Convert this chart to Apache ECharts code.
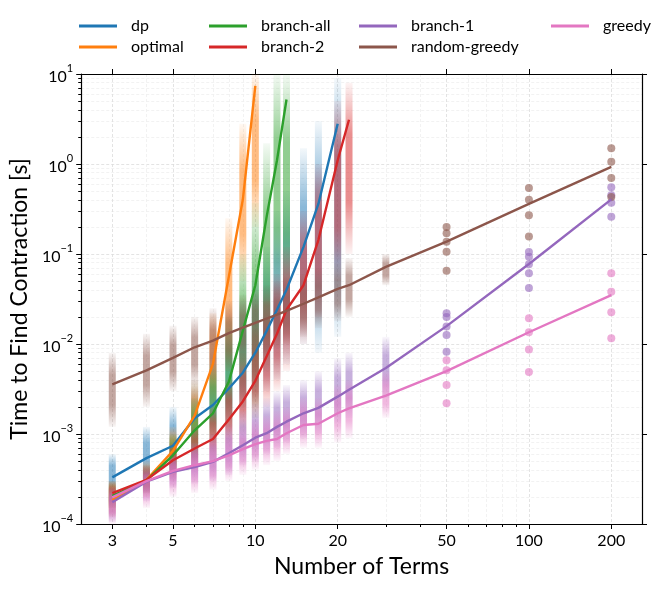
<!DOCTYPE html>
<html><head><meta charset="utf-8">
<script src="https://cdn.jsdelivr.net/npm/echarts@6/dist/echarts.min.js"></script>
<style>html,body{margin:0;padding:0;background:#fff}#c{width:664px;height:590px}</style>
</head><body><div id="c"></div>
<script>
// ---------- data ----------
const xs = [3,4,5,6,7,8,9,10,11,12,13,15,17,20,22,30,50,100,200];
const xMajorTicks = [3,5,10,20,50,100,200];
const xMinorTicks = [4,6,7,8,9,30,40,60,70,80,90];
const yMajorTicks = [1e-4,1e-3,1e-2,1e-1,1,10];

// median lines
const dpMed = [3.3e-4,5.4e-4,7.4e-4,1.5e-3,2.1e-3,3.2e-3,4.8e-3,8e-3,0.014,0.024,0.04,0.12,0.36,2.8];
const optimalMed = [1.85e-4,3.1e-4,6.5e-4,1.6e-3,6e-3,0.056,0.4,7.4];
const branchAllMed = [2.05e-4,3.05e-4,5.8e-4,1.1e-3,1.7e-3,3.8e-3,0.014,0.045,0.26,1.1,5.2];
const branch2Med = [2.2e-4,3.1e-4,5.1e-4,6.9e-4,8.8e-4,1.45e-3,2.3e-3,3.9e-3,7.3e-3,0.013,0.024,0.045,0.143,1.1,3.1];
const branch1Med = [1.75e-4,2.95e-4,3.8e-4,4.3e-4,4.9e-4,6.1e-4,7.5e-4,9.1e-4,1.02e-3,1.2e-3,1.37e-3,1.7e-3,1.95e-3,2.6e-3,3.1e-3,5.4e-3,0.0158,0.0775,0.405];
const randomGreedyMed = [3.56e-3,5.1e-3,7.0e-3,9.2e-3,0.0109,0.0132,0.0152,0.0172,0.0192,0.0212,0.0234,0.028,0.033,0.041,0.045,0.072,0.137,0.36,0.93];
const greedyMed = [1.98e-4,3.0e-4,3.9e-4,4.5e-4,5.0e-4,5.8e-4,6.8e-4,7.7e-4,8.4e-4,8.8e-4,1.02e-3,1.26e-3,1.3e-3,1.7e-3,1.93e-3,2.67e-3,5.0e-3,0.0135,0.035];

// sample clouds (low / high extent per x)
const dpLo = [2.2e-4,3e-4,4e-4,6e-4,8e-4,1e-3,1.5e-3,2e-3,3e-3,4e-3,6e-3,0.01,0.008,0.012];
const dpHi = [6e-4,1.2e-3,2e-3,4e-3,8e-3,0.015,0.03,0.06,0.12,0.3,0.5,1.5,3,9];
const optimalLo = [1.2e-4,2e-4,4e-4,8e-4,2e-3,5e-3,0.05,0.2];
const optimalHi = [3e-4,5e-4,1.2e-3,4e-3,0.022,0.25,2.8,10];
const branchAllLo = [1.5e-4,2.2e-4,3.5e-4,5e-4,8e-4,1.2e-3,2e-3,1.5e-3,5e-3,0.035,0.03];
const branchAllHi = [3e-4,4.5e-4,1e-3,2.5e-3,6e-3,0.02,0.1,0.37,1.7,10,10];
const branch2Lo = [1.5e-4,2.2e-4,3e-4,4e-4,5e-4,7e-4,1e-3,1.5e-3,2e-3,3e-3,5e-3,0.01,0.02,0.05,0.1];
const branch2Hi = [3e-4,4.5e-4,8e-4,1.2e-3,2e-3,4e-3,8e-3,0.015,0.03,0.06,0.12,0.3,1.0,5,8];
const branch1Lo = [1.05e-4,1.8e-4,2.5e-4,2.8e-4,3e-4,3.5e-4,4.5e-4,5e-4,6e-4,7e-4,8e-4,9e-4,1e-3,1.3e-3,1.5e-3,2.5e-3];
const branch1Hi = [2.5e-4,4.5e-4,6e-4,8e-4,1e-3,1.3e-3,1.8e-3,2.2e-3,2.5e-3,3e-3,3.5e-3,4e-3,5e-3,7e-3,8e-3,0.012];
const randomGreedyLo = [1.2e-3,2e-3,3e-3,3.5e-3,4e-3,5e-3,6e-3,7e-3,8e-3,9e-3,0.01,0.012,0.015,0.018,0.02,0.045];
const randomGreedyHi = [8e-3,0.013,0.016,0.02,0.025,0.03,0.035,0.04,0.045,0.05,0.055,0.06,0.07,0.08,0.09,0.1];
const greedyLo = [1e-4,1.5e-4,2e-4,2.2e-4,2.4e-4,3e-4,3.5e-4,4e-4,4.5e-4,5e-4,6e-4,7e-4,7e-4,8e-4,9e-4,1.5e-3];
const greedyHi = [2.6e-4,4e-4,6e-4,7e-4,8e-4,1e-3,1.2e-3,1.5e-3,1.6e-3,1.8e-3,2e-3,2.5e-3,2.5e-3,3.5e-3,4e-3,5e-3];

// sparse samples at large x
const dotXs = [50,100,200];
const randomGreedyDots = [[0.2,0.17,0.137,0.106,0.065],[0.54,0.4,0.27,0.156],[1.5,1.06,0.7,0.43]];
const branch1Dots = [[0.022,0.02,0.0156,0.0126,0.0082],[0.105,0.093,0.077,0.061,0.042],[0.55,0.45,0.37,0.26]];
const greedyDots = [[0.0066,0.0051,0.0035,0.0022],[0.0193,0.0135,0.0087,0.0049],[0.061,0.038,0.0225,0.0116]];

// ---------- chart ----------
const FONT = 'Lato';
const methods = [
  {name:'dp', color:'#1f77b4', med:dpMed, lo:dpLo, hi:dpHi},
  {name:'optimal', color:'#ff7f0e', med:optimalMed, lo:optimalLo, hi:optimalHi},
  {name:'branch-all', color:'#2ca02c', med:branchAllMed, lo:branchAllLo, hi:branchAllHi},
  {name:'branch-2', color:'#d62728', med:branch2Med, lo:branch2Lo, hi:branch2Hi},
  {name:'branch-1', color:'#9467bd', med:branch1Med, lo:branch1Lo, hi:branch1Hi, dots:branch1Dots},
  {name:'random-greedy', color:'#8c564b', med:randomGreedyMed, lo:randomGreedyLo, hi:randomGreedyHi, dots:randomGreedyDots},
  {name:'greedy', color:'#e377c2', med:greedyMed, lo:greedyLo, hi:greedyHi, dots:greedyDots}
];
function rgba(hex, a){
  const n = parseInt(hex.slice(1),16);
  return 'rgba('+((n>>16)&255)+','+((n>>8)&255)+','+(n&255)+','+a+')';
}
function bandRender(color){
  return function(params, api){
    const x = api.value(0), lo = api.value(1), hi = api.value(2);
    const a = api.coord([x, lo]), b = api.coord([x, hi]);
    const w = 7;
    return {type:'rect', shape:{x:a[0]-w/2, y:b[1], width:w, height:a[1]-b[1]},
      style:{fill:new echarts.graphic.LinearGradient(0,0,0,1,[
        {offset:0,color:rgba(color,0.05)},{offset:0.3,color:rgba(color,0.52)},
        {offset:0.7,color:rgba(color,0.52)},{offset:1,color:rgba(color,0.05)}])}};
  };
}
const yMinorTicks = [];
for (let e=-4; e<1; e++) for (let m=2; m<10; m++) yMinorTicks.push(m*Math.pow(10,e));

const series = [];
methods.forEach(m => {
  series.push({type:'custom', name:m.name+' samples', renderItem:bandRender(m.color),
    encode:{x:0,y:[1,2]}, z:1, silent:true,
    data:m.lo.map((v,i)=>[xs[i], v, m.hi[i]])});
  if (m.dots) {
    const d = [];
    m.dots.forEach((arr,j)=>arr.forEach(v=>d.push([dotXs[j], v])));
    series.push({type:'scatter', name:m.name+' sparse', data:d, symbolSize:8, z:2, silent:true,
      itemStyle:{color:rgba(m.color,0.75)}});
  }
});
methods.forEach(m => {
  series.push({type:'line', name:m.name, data:m.med.map((v,i)=>[xs[i], v]), symbol:'none', z:5,
    color:m.color, lineStyle:{color:m.color, width:2.4}, itemStyle:{color:m.color}});
});

const xmin = 2.31, xmax = 259, ymin = 1e-4, ymax = 10;
const axisLineStyle = {color:'#000', width:1.2};
const majorGrid = {show:true, lineStyle:{color:'#dcdcdc', type:[3,2], width:0.8}};
const minorGrid = {show:true, lineStyle:{color:'#efefef', type:[3,2], width:0.8}};
const tickLabelStyle = {fontFamily:FONT, fontSize:16, color:'#000'};

function legendCol(names, left){
  return {data:names.map(n=>({name:n, icon:'rect'})), orient:'vertical', left:left, top:13,
    itemWidth:38, itemHeight:3, itemGap:5, selectedMode:false,
    textStyle:{fontFamily:FONT, fontSize:16, color:'#000', padding:[0,0,0,9]}};
}

const option = {
  animation:false,
  backgroundColor:'#fff',
  grid:{left:81, right:22, top:74, bottom:66},
  legend:[legendCol(['dp','optimal'],74), legendCol(['branch-all','branch-2'],204),
          legendCol(['branch-1','random-greedy'],354), legendCol(['greedy'],546)],
  xAxis:[
    {type:'log', min:xmin, max:xmax, position:'bottom',
     axisLine:{show:true, lineStyle:axisLineStyle},
     axisTick:{show:true, inside:false, length:5, customValues:xMajorTicks, lineStyle:{color:'#000'}},
     axisLabel:{show:true, customValues:xMajorTicks, margin:9, formatter:v=>String(Math.round(v)), ...tickLabelStyle},
     splitLine:majorGrid, minorTick:{show:false},
     name:'Number of Terms', nameLocation:'middle', nameGap:31,
     nameTextStyle:{fontFamily:FONT, fontSize:23, color:'#000'}},
    {type:'log', min:xmin, max:xmax, position:'bottom',
     axisLine:{show:false}, axisTick:{show:true, length:3, customValues:xMinorTicks, lineStyle:{color:'#000'}},
     axisLabel:{show:false}, splitLine:minorGrid},
    {type:'log', min:xmin, max:xmax, position:'top',
     axisLine:{show:true, lineStyle:axisLineStyle},
     axisTick:{show:true, length:5, customValues:xMajorTicks, lineStyle:{color:'#000'}},
     axisLabel:{show:false}, splitLine:{show:false}}
  ],
  yAxis:[
    {type:'log', min:ymin, max:ymax, position:'left',
     axisLine:{show:true, lineStyle:axisLineStyle},
     axisTick:{show:true, length:5, customValues:yMajorTicks, lineStyle:{color:'#000'}},
     axisLabel:{show:true, customValues:yMajorTicks, margin:8,
       formatter:v=>{const e=Math.round(Math.log10(v)); return '{b|10}{s|'+(e<0?'\u2212'+(-e):e)+'}';},
       rich:{b:{fontFamily:FONT, fontSize:16, color:'#000', lineHeight:22, verticalAlign:'bottom'},
             s:{fontFamily:FONT, fontSize:11, color:'#000', lineHeight:22, verticalAlign:'top', padding:[0,0,9,0]}}},
     splitLine:majorGrid,
     name:'Time to Find Contraction [s]', nameLocation:'middle', nameGap:50,
     nameTextStyle:{fontFamily:FONT, fontSize:23, color:'#000'}},
    {type:'log', min:ymin, max:ymax, position:'left',
     axisLine:{show:false}, axisTick:{show:true, length:3, customValues:yMinorTicks, lineStyle:{color:'#000'}},
     axisLabel:{show:false}, splitLine:minorGrid},
    {type:'log', min:ymin, max:ymax, position:'right',
     axisLine:{show:true, lineStyle:axisLineStyle},
     axisTick:{show:true, length:5, customValues:yMajorTicks, lineStyle:{color:'#000'}},
     axisLabel:{show:false}, splitLine:{show:false}}
  ],
  series:series
};
const chart = echarts.init(document.getElementById('c'), null, {renderer:'canvas'});
chart.setOption(option);
</script></body></html>
